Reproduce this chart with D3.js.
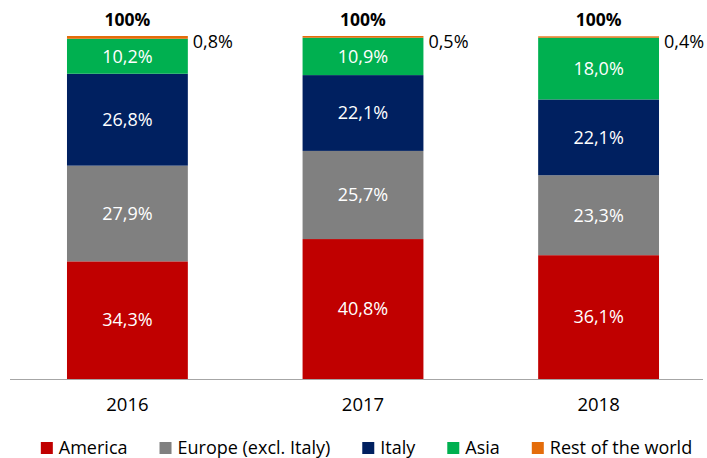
<!DOCTYPE html>
<html>
<head>
<meta charset="utf-8">
<script src="https://cdn.jsdelivr.net/npm/d3@7"></script>
<style>
  body { margin: 0; background: #fff; }
  text { font-family: "Open Sans", sans-serif; }
</style>
</head>
<body>
<div id="chart-area"></div>
<script>
const years = ["2016", "2017", "2018"];
const seriesNames = ["America", "Europe (excl. Italy)", "Italy", "Asia", "Rest of the world"];
const america = [34.3, 40.8, 36.1];
const europe = [27.9, 25.7, 23.3];
const italy = [26.8, 22.1, 22.1];
const asia = [10.2, 10.9, 18.0];
const rest = [0.8, 0.5, 0.4];
const totals = ["100%", "100%", "100%"];
const colors = ["#C00000", "#808080", "#002060", "#00B050", "#E46C0A"];

const fmt = (v) => v.toFixed(1).replace(".", ",") + "%";

const W = 707, H = 458;
const svg = d3.select("#chart-area").append("svg")
    .attr("width", W)
    .attr("height", H);

const seriesValues = [america, europe, italy, asia, rest];
const rows = years.map((y, i) => {
    const r = { year: y };
    seriesNames.forEach((s, k) => { r[s] = seriesValues[k][i]; });
    return r;
});
const stacked = d3.stack().keys(seriesNames)(rows);

const x = d3.scaleBand()
    .domain(years)
    .range([9.5, 716.5])
    .paddingInner(0.487)
    .paddingOuter(0.244);

const y = d3.scaleLinear()
    .domain([0, 100])
    .range([379, 36]);

const color = d3.scaleOrdinal().domain(seriesNames).range(colors);

// bars
const layers = svg.selectAll("g.layer")
    .data(stacked)
    .enter().append("g")
    .attr("class", "layer")
    .attr("fill", (d) => color(d.key));

layers.selectAll("rect")
    .data((d) => d)
    .enter().append("rect")
    .attr("x", (d) => x(d.data.year))
    .attr("y", (d) => y(d[1]))
    .attr("width", x.bandwidth())
    .attr("height", (d) => y(d[0]) - y(d[1]));

// labels inside bars (all but rest of world)
stacked.slice(0, 4).forEach((layer) => {
    svg.selectAll(null)
        .data(layer)
        .enter().append("text")
        .attr("x", (d) => x(d.data.year) + x.bandwidth() / 2)
        .attr("y", (d) => (y(d[0]) + y(d[1])) / 2)
        .attr("dy", "0.35em")
        .attr("text-anchor", "middle")
        .attr("fill", "#fff")
        .attr("font-size", 18)
        .text((d) => fmt(d[1] - d[0]));
});

// rest of world labels, outside right
const restLayer = stacked[4];
svg.selectAll(null)
    .data(restLayer)
    .enter().append("text")
    .attr("x", (d) => x(d.data.year) + x.bandwidth() + 5)
    .attr("y", 42)
    .attr("dy", "0.35em")
    .attr("fill", "#000")
    .attr("font-size", 18)
    .text((d) => fmt(d[1] - d[0]));

// totals on top
svg.selectAll(null)
    .data(years)
    .enter().append("text")
    .attr("x", (d) => x(d) + x.bandwidth() / 2)
    .attr("y", 26)
    .attr("text-anchor", "middle")
    .attr("font-size", 17.5)
    .attr("font-weight", "bold")
    .attr("fill", "#000")
    .text((d, i) => totals[i]);

// x axis
const xAxis = svg.append("g")
    .attr("transform", "translate(0,379)")
    .call(d3.axisBottom(x).tickSize(0).tickPadding(19));
xAxis.select(".domain").remove();
xAxis.selectAll("text")
    .attr("font-size", 18.5)
    .attr("fill", "#000")
    .style("font-family", "'Open Sans', sans-serif");
svg.append("line")
    .attr("x1", 10).attr("x2", 703)
    .attr("y1", 379.5).attr("y2", 379.5)
    .attr("stroke", "#a6a6a6")
    .attr("stroke-width", 1);

// legend
const legend = svg.append("g");
let cx = 0;
seriesNames.forEach((s) => {
    const g = legend.append("g").attr("transform", `translate(${cx},0)`);
    g.append("rect")
        .attr("x", 0).attr("y", -5)
        .attr("width", 12).attr("height", 12)
        .attr("fill", color(s));
    const t = g.append("text")
        .attr("x", 18).attr("y", 1)
        .attr("dy", "0.35em")
        .attr("font-size", 18)
        .attr("fill", "#000")
        .text(s);
    cx += 18 + t.node().getComputedTextLength() + 32;
});
const legendWidth = cx - 32;
legend.attr("transform", `translate(${366.5 - legendWidth / 2},447)`);
</script>
</body>
</html>
